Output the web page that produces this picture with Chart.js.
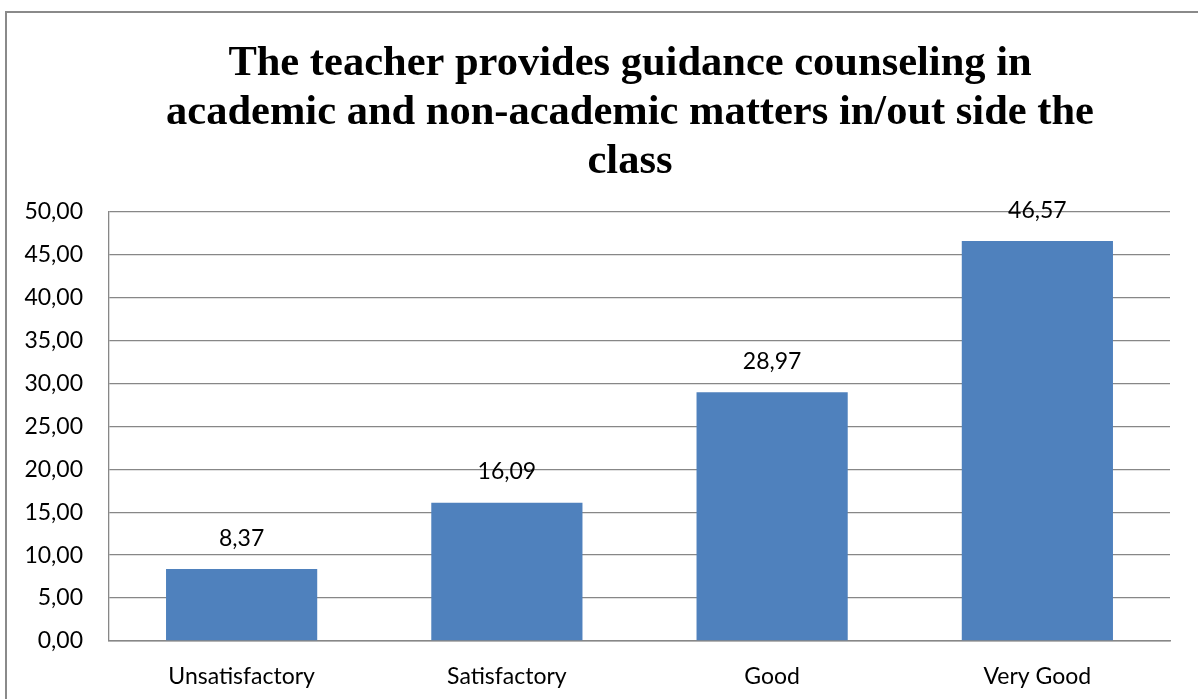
<!DOCTYPE html>
<html>
<head>
<meta charset="utf-8">
<script src="https://cdn.jsdelivr.net/npm/chart.js@4"></script>
<style>
html,body{margin:0;padding:0;background:#fff;overflow:hidden;}
#wrap{width:1260px;height:699px;position:relative;}
</style>
</head>
<body>
<div id="wrap"><canvas id="c" width="1260" height="699"></canvas></div>
<script>
const titleLines = ["The teacher provides guidance counseling in", "academic and non-academic matters in/out side the", "class"];
const categories = ["Unsatisfactory", "Satisfactory", "Good", "Very Good"];
const values = [8.37, 16.09, 28.97, 46.57];
const yMin = 0, yMax = 50, yStep = 5;

const fmt = v => v.toFixed(2).replace('.', ',');
const tickFont = {family: "Lato", size: 23};
const gridColor = "#878787";

const frame = {
  id: 'frame',
  beforeDraw(chart) {
    const ctx = chart.ctx;
    ctx.save();
    ctx.fillStyle = '#fff';
    ctx.fillRect(0, 0, chart.width, chart.height);
    ctx.strokeStyle = '#8a8a8a';
    ctx.lineWidth = 2;
    ctx.strokeRect(6, 12, chart.width + 20, chart.height + 20);
    ctx.restore();
  }
};

const valueLabels = {
  id: 'valueLabels',
  afterDatasetsDraw(chart) {
    const ctx = chart.ctx;
    const meta = chart.getDatasetMeta(0);
    ctx.save();
    ctx.font = `${tickFont.size}px ${tickFont.family}`;
    ctx.fillStyle = '#000';
    ctx.textAlign = 'center';
    ctx.textBaseline = 'middle';
    meta.data.forEach((bar, i) => {
      ctx.fillText(fmt(chart.data.datasets[0].data[i]), bar.x, bar.y - 31);
    });
    ctx.restore();
  }
};

new Chart(document.getElementById('c'), {
  type: 'bar',
  data: {
    labels: categories,
    datasets: [{
      data: values,
      backgroundColor: '#4F81BD',
      borderWidth: 0,
      categoryPercentage: 1,
      barPercentage: 0.57
    }]
  },
  options: {
    responsive: false,
    animation: false,
    layout: {padding: {left: 0, right: 0, top: 12, bottom: 0}},
    plugins: {
      legend: {display: false},
      tooltip: {enabled: false},
      title: {
        display: true,
        text: titleLines,
        color: '#000',
        font: {family: "'Liberation Serif', 'Times New Roman', serif", size: 42.5, weight: 'bold', lineHeight: 1.15},
        padding: {top: 28, bottom: 25}
      }
    },
    scales: {
      x: {
        grid: {display: false, drawTicks: false},
        border: {display: true, color: gridColor, width: 1.5},
        ticks: {color: '#000', font: tickFont, padding: 22, maxRotation: 0},
        afterFit(s) { s.height = 58; }
      },
      y: {
        min: yMin, max: yMax,
        grid: {color: gridColor, lineWidth: 1.3, drawTicks: false},
        border: {display: true, color: gridColor, width: 1.3},
        ticks: {stepSize: yStep, color: '#000', font: tickFont, padding: 26, callback: v => fmt(v)},
        afterFit(s) { s.width = 109; }
      },
      yRight: {
        position: 'right',
        min: yMin, max: yMax,
        grid: {display: false, drawTicks: false},
        border: {display: false},
        ticks: {display: false},
        afterFit(s) { s.width = 90; }
      }
    }
  },
  plugins: [frame, valueLabels]
});
</script>
</body>
</html>
